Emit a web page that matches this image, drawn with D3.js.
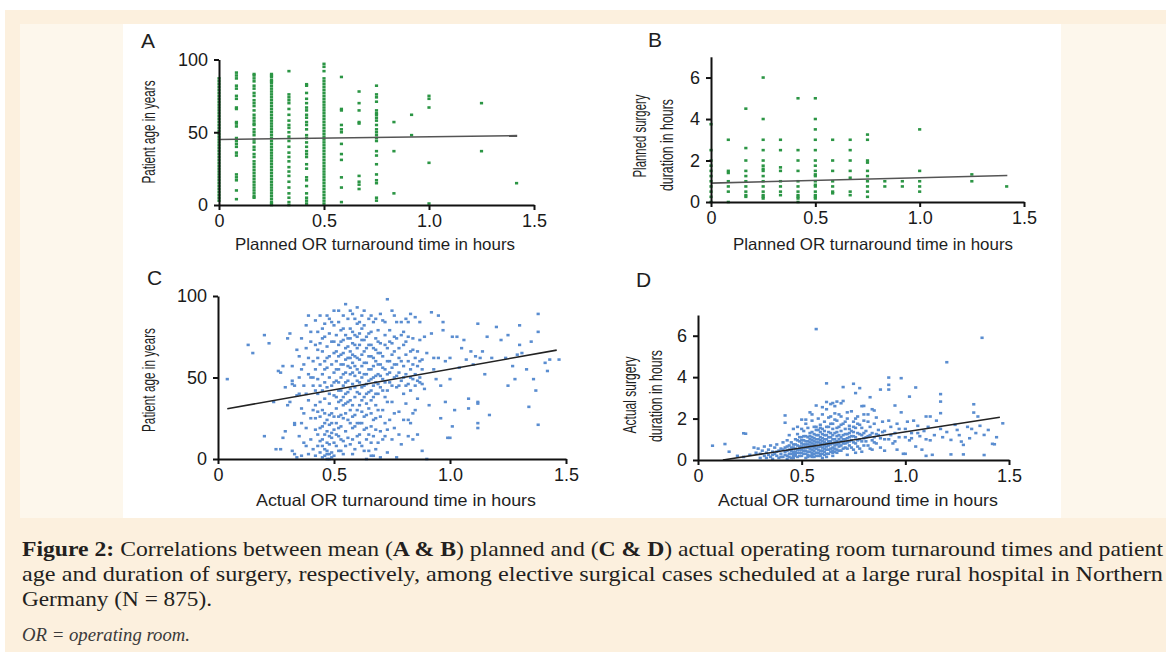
<!DOCTYPE html>
<html>
<head>
<meta charset="utf-8">
<script src="https://cdn.jsdelivr.net/npm/d3@7"></script>
<style>
body{margin:0;background:#fff}
svg{display:block}
.axis path,.axis line{stroke:#111;stroke-width:2}
.label{font-family:"Liberation Sans",Arial,sans-serif;fill:#1e1e1e}
.cap{font-family:"Liberation Serif","Times New Roman",serif;fill:#231f20}
</style>
</head>
<body>
<svg id="fig" width="1166" height="652"></svg>
<script>
// ---- data ----
const xTicks = [0, 0.5, 1, 1.5]
const xTickLabels = ["0", "0.5", "1.0", "1.5"]
const ageTicks = [0, 50, 100]
const durTicks = [0, 2, 4, 6]

// planned turnaround times come in 5-minute steps
const plannedCols = [0, 0.083, 0.167, 0.25, 0.333, 0.417, 0.5, 0.583, 0.667, 0.75, 0.833, 0.917, 1.0, 1.25, 1.417]

// A: patient age per planned-turnaround column
const ageByPlanned = [
  [87,85,83,81,79,77,75,73,71,69,67,65,63,61,59,57,55,53,51,49,47,45,43,41,39,37,35,33,31,29,27,25,23,21,19,17,15,13,11,9,7,5,3],
  [91,89,87,82,80,75,73,67,66,57,56,54,46,44,42,40,36,34,21,19,17,10,4],
  [90,89,87,85,82,80,77,75,72,70,68,65,62,60,58,56,55,52,50,48,45,43,40,38,35,33,30,28,26,24,22,20,18,16,14,12,10,8,6,5],
  [90,89,88,86,85,84,82,80,78,76,74,72,70,68,66,64,62,60,58,56,54,52,50,48,46,44,42,40,38,36,34,32,30,28,26,24,22,20,18,16,14,12,10,8,6,4,2,1,0],
  [92,76,74,72,70,66,62,58,55,53,50,47,44,40,36,33,30,26,23,20,16,12,8,5,2,0],
  [83,82,77,73,70,67,65,62,60,57,55,52,48,46,43,40,37,35,33,28,25,19,17,13,8,5,3,1],
  [97,95,92,87,85,83,81,79,77,75,73,71,69,67,65,63,61,59,57,55,53,51,49,47,45,43,41,39,37,35,33,31,29,27,25,23,21,19,17,15,13,11,9,7,5,3,1],
  [88,66,65,55,52,50,42,35,31,19,12,2],
  [78,70,65,57,56,20,16,14,11],
  [82,76,74,71,65,63,62,60,58,55,52,50,48,46,44,37,34,28,21,17,15,5,3],
  [57,37,8],
  [62,48],
  [75,73,67,29,1],
  [70,37],
  [15]
]

// B: planned surgery duration (h) per planned-turnaround column
const durByPlanned = [
  [3.75,2.5,2,1.75,1.5,1.25,1,0.75,0.5,0.25,0],
  [3,1.5,1.4,1,0.75,0.5,0],
  [4.5,2.6,2,1.5,1.25,1,0.75,0.5,0.33,0.25],
  [6,4,3,2.5,2,1.75,1.6,1.5,1.25,1,0.75,0.5,0.33,0.25,0.17],
  [3,2.5,1.67,1.5,1,0.75,0.5,0.33],
  [5,2.5,2,1.5,1,0.75,0.5,0.33,0.25,0.17,0],
  [5,4,3.5,3,2.5,2,1.75,1.5,1.33,1.25,1,0.83,0.75,0.5,0.33,0.25,0.17],
  [3,2,1.5,1,0.75,0.5,0.42],
  [3,2.5,2,1.5,1.17,0.5,0.33],
  [3.25,3,2,1.9,1.5,1.25,1,0.75,0.5,0.25],
  [1,0.75],
  [1,0.75],
  [3.5,1.5,1,0.75,0.5],
  [1.33,1],
  [0.75]
]

// C: actual turnaround (h), patient age
const ageByActual = [
  [0.04,49],[0.13,70],[0.15,65],[0.2,76],[0.22,71],[0.2,14],[0.24,35],[0.25,6],[0.27,6],[0.27,53],[0.28,57],[0.29,17],[0.3,74],[0.29,44],[0.26,54],[0.28,13],
  [0.31,77],[0.32,48],[0.32,46],[0.33,45],[0.33,22],[0.33,21],[0.32,5],[0.33,3],[0.34,1],[0.34,67],[0.35,63],[0.35,40],[0.36,31],[0.36,2],[0.37,10],[0.37,28],
  [0.37,58],[0.38,68],[0.38,82],[0.39,3],[0.39,36],[0.39,52],[0.4,72],[0.4,12],[0.4,25],[0.41,45],[0.41,6],[0.41,60],[0.31,35],[0.34,39],[0.36,74],[0.38,19],
  [0.35,14],[0.39,88],[0.3,33],[0.32,57],
  [0.42,85],[0.42,55],[0.42,33],[0.42,18],[0.42,2],[0.43,78],[0.43,62],[0.43,49],[0.43,40],[0.43,8],[0.44,71],[0.44,58],[0.44,26],[0.44,11],[0.44,4],
  [0.45,80],[0.45,66],[0.45,52],[0.45,42],[0.45,30],[0.45,20],[0.45,1],[0.46,75],[0.46,60],[0.46,47],[0.46,37],[0.46,15],[0.46,6],[0.47,88],[0.47,69],
  [0.47,56],[0.47,44],[0.47,24],[0.47,3],[0.48,77],[0.48,63],[0.48,50],[0.48,34],[0.48,21],[0.48,9],[0.48,0],[0.49,72],[0.49,58],[0.49,45],[0.49,28],
  [0.49,13],[0.49,4],[0.5,91],[0.5,82],[0.5,65],[0.5,53],[0.5,39],[0.5,18],[0.5,2],
  [0.46,2],[0.47,5],[0.48,3],[0.47,10],[0.49,16],[0.45,12],[0.46,22],[0.48,27],[0.49,1],[0.47,0],[0.44,19],[0.43,29],[0.42,42],[0.41,50],
  [0.51,76],[0.51,60],[0.51,48],[0.51,31],[0.51,22],[0.51,8],[0.52,84],[0.52,70],[0.52,55],[0.52,42],[0.52,26],[0.52,14],[0.53,79],[0.53,64],[0.53,50],
  [0.53,36],[0.53,20],[0.53,5],[0.54,73],[0.54,58],[0.54,45],[0.54,33],[0.54,11],[0.55,95],[0.55,68],[0.55,53],[0.55,40],[0.55,28],[0.55,17],[0.56,86],
  [0.56,74],[0.56,62],[0.56,48],[0.56,35],[0.56,24],[0.57,80],[0.57,66],[0.57,56],[0.57,43],[0.57,30],[0.57,9],[0.58,89],[0.58,71],[0.58,59],[0.58,46],
  [0.58,19],[0.58,3],[0.59,76],[0.59,63],[0.59,51],[0.59,38],[0.59,27],[0.6,93],[0.6,83],[0.6,68],[0.6,55],[0.6,41],[0.6,14],
  [0.51,66],[0.53,72],[0.55,61],[0.57,52],[0.59,70],[0.52,47],[0.54,38],[0.56,57],[0.58,64],[0.6,48],[0.53,58],[0.55,76],[0.57,74],[0.59,44],[0.51,38],[0.54,65],
  [0.61,77],[0.61,61],[0.61,47],[0.61,33],[0.61,22],[0.62,73],[0.62,57],[0.62,44],[0.62,29],[0.62,8],[0.63,91],[0.63,82],[0.63,66],[0.63,52],[0.63,38],
  [0.63,18],[0.64,75],[0.64,59],[0.64,46],[0.64,27],[0.64,12],[0.64,0],[0.65,86],[0.65,70],[0.65,55],[0.65,41],[0.65,31],[0.65,5],[0.66,78],[0.66,63],
  [0.66,49],[0.66,36],[0.66,20],[0.67,84],[0.67,68],[0.67,57],[0.67,45],[0.67,14],[0.67,2],[0.68,74],[0.68,60],[0.68,47],[0.68,33],[0.68,25],[0.69,79],
  [0.69,65],[0.69,52],[0.69,40],[0.69,10],[0.7,71],[0.7,58],[0.7,44],[0.7,17],[0.7,1],
  [0.62,64],[0.64,68],[0.66,55],[0.68,51],[0.61,53],[0.63,45],[0.65,63],[0.67,50],[0.69,46],[0.62,36],[0.64,40],[0.66,42],
  [0.71,85],[0.71,63],[0.71,49],[0.71,30],[0.72,76],[0.72,55],[0.72,38],[0.72,14],[0.73,98],[0.73,68],[0.73,52],[0.73,42],[0.73,4],[0.74,79],[0.74,60],
  [0.74,47],[0.74,24],[0.75,91],[0.75,71],[0.75,56],[0.75,35],[0.76,66],[0.76,50],[0.76,19],[0.77,84],[0.77,74],[0.77,58],[0.77,44],[0.77,1],[0.78,62],
  [0.78,53],[0.78,29],[0.79,76],[0.79,48],[0.79,9],[0.8,70],[0.8,57],[0.8,40],
  [0.81,86],[0.81,64],[0.81,52],[0.81,34],[0.82,75],[0.82,46],[0.82,14],[0.82,24],[0.83,89],[0.83,66],[0.83,55],[0.83,42],[0.84,74],[0.84,49],[0.84,28],
  [0.84,12],[0.85,87],[0.85,62],[0.85,45],[0.86,57],[0.86,37],[0.86,66],[0.87,73],[0.87,50],[0.87,47],[0.88,61],[0.88,5],[0.88,55],[0.89,43],[0.89,75],
  [0.9,0],[0.9,65],
  [0.91,33],[0.92,90],[0.92,77],[0.93,55],[0.93,62],[0.94,49],[0.95,88],[0.95,62],[0.96,45],[0.96,25],[0.97,84],[0.97,79],[0.98,60],[0.98,35],[0.99,13],
  [1.0,13],[1.0,49],[1.0,62],[1.01,20],[1.01,75],[1.02,30],[1.03,75],[1.04,56],[1.05,68],[1.06,73],[1.07,61],[1.08,37],[1.08,31],[1.09,66],[1.1,58],
  [1.11,63],[1.12,83],[1.12,35],[1.12,34],[1.12,22],[1.12,19],[1.13,62],[1.14,66],[1.15,52],[1.16,75],[1.17,27],[1.18,62],[1.2,81],[1.22,73],
  [1.24,62],[1.25,76],[1.25,45],[1.27,57],[1.28,49],[1.3,82],[1.3,70],[1.31,65],[1.33,55],[1.34,32],[1.35,72],[1.36,49],[1.37,42],[1.38,89],[1.38,78],
  [1.38,21],[1.42,54],[1.43,61],[1.47,61],[1.41,59],[1.29,64],
  [0.42,70],[0.43,67],[0.44,45],[0.45,74],[0.46,55],[0.47,62],[0.48,40],[0.49,84],[0.5,47],[0.5,72],[0.51,55],[0.52,63],[0.52,35],[0.53,42],[0.53,27],
  [0.54,80],[0.54,52],[0.55,47],[0.55,34],[0.56,69],[0.56,41],[0.57,36],[0.57,62],[0.58,78],[0.58,53],[0.58,33],[0.59,57],[0.59,20],[0.6,62],[0.6,75],
  [0.6,30],[0.61,70],[0.61,40],[0.61,84],[0.62,50],[0.62,80],[0.63,59],[0.63,73],[0.64,52],[0.64,34],[0.65,48],[0.65,77],[0.66,70],[0.66,28],[0.67,62],
  [0.67,38],[0.68,67],[0.68,40],[0.69,58],[0.69,72],[0.7,51],[0.7,65],[0.71,56],[0.71,42],[0.72,70],[0.72,47],[0.73,60],[0.73,35],[0.74,53],[0.74,72],
  [0.75,45],[0.75,64],[0.76,58],[0.76,75],[0.77,51],[0.78,68],[0.78,45],[0.79,60],[0.8,50],[0.8,78],[0.81,45],[0.81,72],[0.82,60],[0.83,50],[0.84,58],
  [0.84,67],[0.85,52],[0.86,48],[0.87,60],[0.88,46],
  [0.42,25],[0.43,15],[0.44,35],[0.45,8],[0.46,28],[0.47,17],[0.48,14],[0.49,22],[0.5,10],[0.5,26],[0.51,15],[0.52,5],[0.52,19],[0.53,12],[0.54,25],
  [0.54,3],[0.55,8],[0.56,13],[0.57,22],[0.58,26],[0.58,12],[0.59,6],[0.6,22],[0.61,10],[0.61,15],[0.62,22],[0.63,26],[0.63,5],[0.64,19],[0.65,15],
  [0.66,10],[0.66,2],[0.67,24],[0.68,18],[0.68,6],[0.69,30],[0.7,26],[0.71,12],[0.72,22],[0.73,18],[0.75,12],[0.76,28],[0.78,15],[0.8,24],[0.83,22],
  [0.85,30],[0.86,15],
  [0.44,88],[0.46,83],[0.48,86],[0.52,91],[0.54,88],[0.57,91],[0.59,86],[0.62,88],[0.66,88],[0.68,86],[0.7,89],[0.72,84],[0.76,88],[0.79,84],[0.82,84],
  [0.87,84],[0.35,50],[0.36,55],[0.37,45],[0.38,40],[0.39,62],[0.4,50],[0.41,30],[0.36,22],[0.38,8],[0.4,78]
]

// D: actual turnaround (h), actual surgery duration (h)
const durByActual = [
  [0.07,0.69],[0.13,0.77],[0.15,0.4],[0.22,1.29],[0.23,1.27],[0.19,0.2],[0.22,0.15],[0.25,0.25],[0.27,0.6],[0.28,0.35],[0.29,0.55],[0.3,0.1],[0.3,0.3],
  [0.31,0.45],[0.32,0.2],[0.32,0.65],[0.33,0.35],[0.33,0.1],[0.34,0.5],[0.34,0.25],[0.35,0.7],[0.35,0.15],[0.36,0.4],[0.36,0.05],[0.37,0.6],[0.37,0.3],
  [0.38,0.2],[0.38,0.75],[0.39,0.45],[0.39,0.1],[0.4,0.55],[0.4,0.3],[0.41,0.85],[0.41,0.15],[0.42,2.15],[0.42,1.8],[0.42,0.6],[0.42,0.4],[0.43,0.95],
  [0.43,0.2],[0.43,0.05],[0.44,0.7],[0.44,0.5],[0.44,1.2],[0.45,0.3],[0.45,0.1],[0.45,0.85],[0.46,1.5],[0.46,0.6],[0.46,0.4],[0.46,0.2],[0.47,1.0],
  [0.47,0.75],[0.47,0.3],[0.48,1.6],[0.48,0.5],[0.48,0.15],[0.48,1.25],[0.49,0.9],[0.49,0.65],[0.49,0.35],[0.5,1.95],[0.5,1.1],[0.5,0.8],[0.5,0.5],[0.5,0.2],
  [0.51,1.4],[0.51,0.95],[0.51,0.6],[0.51,0.3],[0.52,1.75],[0.52,1.15],[0.52,0.75],[0.52,0.45],[0.52,0.1],[0.53,1.55],[0.53,0.9],[0.53,0.6],[0.53,0.25],
  [0.54,2.3],[0.54,1.3],[0.54,1.0],[0.54,0.7],[0.54,0.4],[0.55,1.9],[0.55,1.1],[0.55,0.8],[0.55,0.5],[0.55,0.15],[0.56,1.6],[0.56,1.25],[0.56,0.9],
  [0.56,0.6],[0.56,0.3],[0.57,6.32],[0.57,2.63],[0.57,1.45],[0.57,1.0],[0.57,0.7],[0.57,0.35],[0.58,2.0],[0.58,1.2],[0.58,0.85],[0.58,0.5],[0.58,0.2],
  [0.59,1.7],[0.59,1.35],[0.59,0.95],[0.59,0.65],[0.59,0.3],[0.6,2.2],[0.6,1.5],[0.6,1.05],[0.6,0.75],[0.6,0.45],[0.6,0.1],
  [0.61,1.85],[0.61,1.2],[0.61,0.85],[0.61,0.55],[0.62,3.7],[0.62,2.45],[0.62,1.6],[0.62,1.0],[0.62,0.65],[0.62,0.3],[0.63,1.35],[0.63,0.9],[0.63,0.5],
  [0.63,2.05],[0.64,2.7],[0.64,1.75],[0.64,1.1],[0.64,0.75],[0.64,0.4],[0.65,1.5],[0.65,1.0],[0.65,0.6],[0.65,0.2],[0.66,2.25],[0.66,1.3],[0.66,0.85],
  [0.66,0.55],[0.67,2.82],[0.67,1.9],[0.67,1.15],[0.67,0.75],[0.67,0.35],[0.68,1.6],[0.68,1.0],[0.68,0.65],[0.69,2.74],[0.69,2.1],[0.69,1.4],[0.69,0.9],
  [0.69,0.45],[0.7,3.52],[0.7,2.85],[0.7,1.75],[0.7,1.2],[0.7,0.8],
  [0.71,1.5],[0.71,1.0],[0.71,0.6],[0.72,2.0],[0.72,1.25],[0.72,0.85],[0.72,0.25],[0.73,1.65],[0.73,1.1],[0.73,0.7],[0.74,2.35],[0.74,1.4],[0.74,0.95],
  [0.75,3.68],[0.75,1.85],[0.75,1.15],[0.75,0.5],[0.76,3.23],[0.76,1.55],[0.76,0.8],[0.77,2.1],[0.77,1.3],[0.77,0.65],[0.78,3.47],[0.78,1.7],[0.78,1.0],
  [0.79,2.6],[0.79,1.2],[0.79,0.4],[0.8,2.61],[0.8,1.9],[0.8,1.05],[0.8,0.7],
  [0.81,1.4],[0.81,0.9],[0.82,2.2],[0.82,1.15],[0.83,3.03],[0.83,1.6],[0.83,0.55],[0.84,2.45],[0.84,1.3],[0.84,0.95],[0.85,2.39],[0.85,1.75],[0.85,1.1],
  [0.86,2.05],[0.86,0.8],[0.87,1.45],[0.87,1.2],[0.88,3.4],[0.88,0.6],[0.89,1.35],[0.89,1.85],[0.9,1.0],[0.9,0.45],
  [0.92,3.98],[0.92,3.63],[0.92,3.4],[0.92,1.9],[0.92,1.0],[0.93,1.6],[0.94,0.8],[0.95,2.63],[0.95,1.3],[0.96,1.75],[0.96,0.5],[0.97,1.1],[0.98,3.95],
  [0.98,2.3],[0.99,0.3],[1.0,1.5],[1.0,0.3],[1.01,1.85],[1.02,3.06],[1.02,0.95],[1.03,1.3],[1.04,1.9],[1.05,3.5],[1.05,0.65],[1.06,1.65],[1.07,1.15],
  [1.08,0.5],[1.09,1.4],[1.1,2.1],[1.1,0.2],[1.11,1.6],[1.12,2.1],[1.12,0.95],[1.13,0.25],[1.14,1.2],[1.15,1.9],[1.17,3.18],[1.17,2.82],[1.17,2.26],
  [1.17,1.5],[1.18,1.1],[1.2,4.72],[1.2,1.35],[1.22,0.97],[1.22,0.27],
  [1.24,1.7],[1.25,1.45],[1.26,1.2],[1.27,0.89],[1.28,0.73],[1.28,0.27],[1.3,1.6],[1.31,1.05],[1.32,1.5],[1.33,2.69],[1.33,2.29],[1.34,1.3],[1.35,2.1],
  [1.36,1.65],[1.37,5.9],[1.38,1.21],[1.38,0.24],[1.4,1.45],[1.42,0.78],[1.43,0.76],[1.44,1.1],[1.47,1.77],
  [0.5,0.35],[0.51,0.75],[0.52,0.6],[0.53,0.4],[0.54,0.55],[0.55,0.35],[0.56,0.45],[0.57,0.55],[0.58,0.65],[0.59,0.45],[0.6,0.6],[0.61,0.4],[0.62,0.5],
  [0.63,0.7],[0.64,0.55],[0.65,0.8],[0.66,0.7],[0.67,0.5],[0.68,0.8],[0.45,0.45],[0.47,0.55],[0.49,0.5],[0.46,0.3],[0.48,0.35],[0.44,0.3],[0.43,0.45],
  [0.53,0.75],[0.55,0.65],[0.57,0.85],[0.59,0.8],[0.61,0.7],[0.63,0.85],[0.65,0.45],[0.58,0.35],[0.6,0.3],[0.62,0.15],[0.56,0.15],[0.54,0.2],[0.52,0.3],[0.5,0.65],
  [0.36,0.25],[0.38,0.4],[0.4,0.15],[0.41,0.5],[0.42,0.25],[0.43,0.65],[0.44,0.15],[0.45,0.6],[0.46,0.75],[0.46,0.1],[0.47,0.4],[0.47,0.2],[0.48,0.7],
  [0.48,0.95],[0.49,0.2],[0.49,1.1],[0.5,0.95],[0.51,0.45],[0.51,1.15],[0.52,0.9],[0.53,1.1],[0.53,0.15],[0.54,0.85],[0.54,1.15],[0.55,0.95],[0.55,0.25],
  [0.56,0.75],[0.56,1.05],[0.57,1.2],[0.57,0.2],[0.58,1.0],[0.58,1.45],[0.59,1.1],[0.59,0.2],[0.6,0.9],[0.6,1.25],[0.61,1.0],[0.61,0.25],[0.62,0.8],
  [0.62,1.2],[0.63,1.1],[0.63,0.3],[0.64,0.9],[0.64,1.3],[0.65,1.2],[0.65,0.35],[0.66,1.0],[0.66,0.4],[0.67,0.9],[0.67,1.35],[0.68,1.2],[0.68,0.45],
  [0.69,1.1],[0.69,0.7],[0.7,1.0],[0.7,0.55],[0.71,1.25],[0.71,0.8],[0.72,1.05],[0.72,0.55],[0.73,1.3],[0.73,0.9],[0.74,1.15],[0.74,0.6],[0.75,1.35],
  [0.75,0.85],[0.76,1.1],[0.76,0.35],[0.77,0.95],[0.78,1.25],[0.78,0.55],[0.79,0.9],[0.8,1.3],[0.81,1.1],[0.82,0.7],[0.83,1.2],[0.84,0.5],[0.85,0.85],
  [0.86,1.25],[0.88,1.05],[0.9,1.4],[0.93,1.2],[0.95,0.9],[0.97,1.5],[1.0,1.1],[1.03,1.05],[1.06,1.3],[1.1,1.0],
  [0.55,1.35],[0.57,1.6],[0.59,1.55],[0.61,1.4],[0.63,1.6],[0.65,1.75],[0.67,1.55],[0.69,1.7],[0.71,1.85],[0.73,1.5],[0.75,1.6],[0.77,1.75],[0.79,1.55],
  [0.82,1.85],[0.64,2.1],[0.66,1.95],[0.68,2.2],[0.72,2.3],[0.76,2.0],[0.8,2.2],[0.62,2.8],[0.65,2.75],[0.66,2.6],[0.6,2.55],[0.55,2.2],[0.52,1.95],[0.5,1.5]
]

// regression lines: end points [x, y]
const fitA = [[0, 45], [1.42, 47.7]]
const fitB = [[0, 0.91], [1.42, 1.28]]
const fitC = [[0.04, 30.8], [1.46, 66.8]]
const fitD = [[0.12, 0], [1.456, 2.06]]

const captionLines = [
  "Correlations between mean (", "A & B", ") planned and (", "C & D", ") actual operating room turnaround times and patient"
]
const captionLine2 = "age and duration of surgery, respectively, among elective surgical cases scheduled at a large rural hospital in Northern"
const captionLine3 = "Germany (N = 875)."
const captionNote = "OR = operating room."

// ---- drawing ----
const svg = d3.select("#fig")

// page backgrounds
svg.append("rect").attr("width", 1166).attr("height", 652).attr("fill", "#ffffff")
svg.append("rect").attr("x", 5).attr("y", 10).attr("width", 1161).attr("height", 642).attr("fill", "#fcf0de")
svg.append("rect").attr("x", 20).attr("y", 24).attr("width", 1146).attr("height", 494).attr("fill", "#fdf7ec")
svg.append("rect").attr("x", 123).attr("y", 24).attr("width", 938).attr("height", 494).attr("fill", "#ffffff")

function columnsToPoints(cols, vals) {
    let pts = []
    cols.forEach(function (c, i) {
        vals[i].forEach(function (v) { pts.push([c, v]) })
    })
    return pts
}

function panel(cfg) {
    let g = svg.append("g")
    let xScale = d3.scaleLinear().domain([0, 1.5]).range(cfg.xr)
    let yScale = d3.scaleLinear().domain(cfg.yd).range(cfg.yr)

    g.selectAll(".dot")
        .data(cfg.pts)
        .enter()
        .append("rect")
        .attr("x", d => xScale(d[0]) - 1.6)
        .attr("y", d => yScale(d[1]) - 1.3)
        .attr("width", 3.2)
        .attr("height", 2.6)
        .attr("fill", cfg.color)

    g.append("path")
        .datum(cfg.fit)
        .attr("d", d3.line().x(d => xScale(d[0])).y(d => yScale(d[1])))
        .attr("fill", "none")
        .attr("stroke", cfg.lineColor)
        .attr("stroke-width", 1.6)

    // x and y axis
    let x_axis = d3.axisBottom(xScale).tickValues(xTicks)
        .tickFormat((d, i) => xTickLabels[i]).tickSize(5).tickSizeOuter(0).tickPadding(4)
    let y_axis = d3.axisLeft(yScale).tickValues(cfg.yTicks)
        .tickFormat(d3.format("d")).tickSize(5).tickSizeOuter(0).tickPadding(6)

    let gx = g.append("g").attr("class", "axis")
        .attr("transform", `translate(0,${cfg.yr[0]})`)
        .call(x_axis)
    let gy = g.append("g").attr("class", "axis")
        .attr("transform", `translate(${cfg.xr[0]},0)`)
        .call(y_axis)
    g.selectAll(".axis text")
        .attr("font-family", "'Liberation Sans', Arial, sans-serif")
        .attr("font-size", 18)
        .attr("fill", "#1a1a1a")

    // panel letter
    g.append("text").attr("class", "label")
        .attr("x", cfg.letterPos[0]).attr("y", cfg.letterPos[1])
        .style("font-size", "21px")
        .text(cfg.letter)

    // x title
    g.append("text").attr("class", "label")
        .attr("x", cfg.xTitle[1]).attr("y", cfg.xTitle[2])
        .attr("text-anchor", "middle")
        .attr("textLength", 280).attr("lengthAdjust", "spacingAndGlyphs")
        .style("font-size", "16.5px")
        .text(cfg.xTitle[0])

    // y title lines (rotated, condensed)
    cfg.yTitle.forEach(function (t) {
        g.append("text").attr("class", "label")
            .attr("transform", `translate(${t[1]},${t[2]}) rotate(-90)`)
            .attr("text-anchor", "middle")
            .attr("dy", "0.36em")
            .attr("textLength", t[3]).attr("lengthAdjust", "spacingAndGlyphs")
            .style("font-size", "18px")
            .text(t[0])
    })
}

const green = "#2b9544"
const blue = "#5a8dd0"

panel({
    pts: columnsToPoints(plannedCols, ageByPlanned), color: green, lineColor: "#555",
    fit: fitA, xr: [219, 534], yd: [0, 100], yr: [205, 59.5], yTicks: ageTicks,
    letter: "A", letterPos: [141, 48],
    xTitle: ["Planned OR turnaround time in hours", 375, 250],
    yTitle: [["Patient age in years", 149, 132, 103]]
})

panel({
    pts: columnsToPoints(plannedCols, durByPlanned), color: green, lineColor: "#555",
    fit: fitB, xr: [711, 1024], yd: [0, 7], yr: [202, 56.8], yTicks: durTicks,
    letter: "B", letterPos: [648, 47],
    xTitle: ["Planned OR turnaround time in hours", 873, 250],
    yTitle: [["Planned surgery", 640, 136, 83], ["duration in hours", 667, 145, 92]]
})

panel({
    pts: ageByActual, color: blue, lineColor: "#222",
    fit: fitC, xr: [218, 566], yd: [0, 100], yr: [459, 296], yTicks: ageTicks,
    letter: "C", letterPos: [147, 285],
    xTitle: ["Actual OR turnaround time in hours", 396, 506],
    yTitle: [["Patient age in years", 149, 380, 104]]
})

panel({
    pts: durByActual, color: blue, lineColor: "#222",
    fit: fitD, xr: [698, 1009], yd: [0, 7], yr: [460, 315], yTicks: durTicks,
    letter: "D", letterPos: [636, 287],
    xTitle: ["Actual OR turnaround time in hours", 858, 506],
    yTitle: [["Actual surgery", 630, 395, 77], ["duration in hours", 656, 396, 92]]
})

// caption
let cap1 = svg.append("text").attr("class", "cap")
    .attr("x", 22).attr("y", 556)
    .attr("textLength", 1141).attr("lengthAdjust", "spacingAndGlyphs")
    .style("font-size", "21px")
cap1.append("tspan").style("font-weight", "bold").text("Figure 2: ")
captionLines.forEach(function (s, i) {
    cap1.append("tspan").style("font-weight", i % 2 ? "bold" : "normal").text(s)
})

svg.append("text").attr("class", "cap")
    .attr("x", 22).attr("y", 581)
    .attr("textLength", 1141).attr("lengthAdjust", "spacingAndGlyphs")
    .style("font-size", "21px")
    .text(captionLine2)

svg.append("text").attr("class", "cap")
    .attr("x", 22).attr("y", 606)
    .attr("textLength", 190).attr("lengthAdjust", "spacingAndGlyphs")
    .style("font-size", "21px")
    .text(captionLine3)

svg.append("text").attr("class", "cap")
    .attr("x", 22).attr("y", 641)
    .attr("textLength", 168).attr("lengthAdjust", "spacingAndGlyphs")
    .style("font-size", "18px").style("font-style", "italic").style("fill", "#3a3a3a")
    .text(captionNote)
</script>
</body>
</html>
